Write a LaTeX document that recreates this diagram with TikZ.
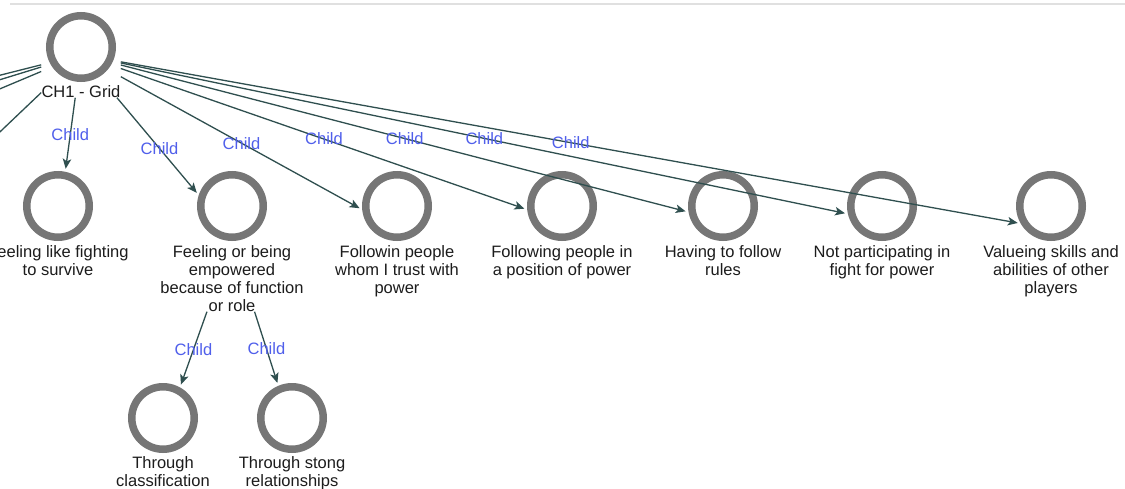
\documentclass[tikz,border=0pt]{standalone}
\usepackage{fontspec}
\setmainfont{Liberation Sans}
\usetikzlibrary{arrows.meta,fit}
\definecolor{ringgray}{RGB}{118,118,118}
\definecolor{edgecol}{RGB}{47,79,79}
\definecolor{childblue}{RGB}{80,95,235}
\definecolor{labeltext}{RGB}{28,28,28}
\definecolor{rulegray}{RGB}{224,224,224}
\begin{document}
\begin{tikzpicture}[x=1pt,y=-1pt,
  concept/.style={circle,draw=ringgray,line width=7.5pt,minimum size=62.5pt,inner sep=0pt},
  caption/.style={align=center,inner sep=0pt,text=labeltext,anchor=north,
    font=\fontsize{16.5}{18}\selectfont},
  grp/.style={inner sep=0pt,draw=none},
  edge/.style={draw=edgecol,line width=1.3pt,
    -{Stealth[length=10pt,width=8.5pt,inset=2.5pt]},shorten >=3pt},
  childlbl/.style={text=childblue,inner sep=0pt,font=\fontsize{16.5}{18}\selectfont}
]
\useasboundingbox (0,0) rectangle (1125,488);
\fill[white] (0,0) rectangle (1125,488);
\clip (0,0) rectangle (1125,488);

% header rule
\draw[rulegray,line width=2pt] (10,4) -- (1125,4);

% root concept
\node[concept] (ch1) at (81,47) {};
\node[caption] (ch1l) at ([yshift=-3pt]ch1.south) {CH1 - Grid};
\node[grp,fit=(ch1)(ch1l)] (ch1g) {};

% first level
\node[concept] (n1) at (58,206) {};
\node[caption] (n1l) at ([yshift=-4pt]n1.south) {Feeling like fighting\\to survive};
\node[concept] (n2) at (232,206) {};
\node[caption] (n2l) at ([yshift=-4pt]n2.south) {Feeling or being\\empowered\\because of function\\or role};
\node[grp,fit=(n2)(n2l)] (n2g) {};
\node[concept] (n3) at (397,206) {};
\node[caption] (n3l) at ([yshift=-4pt]n3.south) {Followin people\\whom I trust with\\power};
\node[concept] (n4) at (562,206) {};
\node[caption] (n4l) at ([yshift=-4pt]n4.south) {Following people in\\a position of power};
\node[concept] (n5) at (723,206) {};
\node[caption] (n5l) at ([yshift=-4pt]n5.south) {Having to follow\\rules};
\node[concept] (n6) at (882,206) {};
\node[caption] (n6l) at ([yshift=-4pt]n6.south) {Not participating in\\fight for power};
\node[concept] (n7) at (1051,206) {};
\node[caption] (n7l) at ([yshift=-4pt]n7.south) {Valueing skills and\\abilities of other\\players};

% second level
\node[concept] (n8) at (163,418) {};
\node[caption] (n8l) at ([yshift=-3.5pt]n8.south) {Through\\classification};
\node[concept] (n9) at (292,418) {};
\node[caption] (n9l) at ([yshift=-3.5pt]n9.south) {Through stong\\relationships};

% children outside the visible area
\coordinate (offa) at (-300,151);
\coordinate (offb) at (-300,172);
\coordinate (offc) at (-300,215);
\coordinate (offd) at (-100,227);

% connectors
\draw[edge] (ch1g) -- (offa);
\draw[edge] (ch1g) -- (offb);
\draw[edge] (ch1g) -- (offc);
\draw[edge] (ch1g) -- (offd);
\draw[edge] (ch1g) -- node[childlbl]{Child} (n1.78);
\draw[edge] (ch1g) -- node[childlbl,pos=0.52]{Child} (n2.162);
\draw[edge] (ch1g) -- node[childlbl]{Child} (n3.186);
\draw[edge] (ch1g) -- node[childlbl]{Child} (n4.186);
\draw[edge] (ch1g) -- node[childlbl]{Child} (n5.190);
\draw[edge] (ch1g) -- node[childlbl]{Child} (n6.193);
\draw[edge] (ch1g) -- node[childlbl]{Child} (n7.210);
\draw[edge] (n2g) -- node[childlbl]{Child} (n8.61);
\draw[edge] (n2g) -- node[childlbl]{Child} (n9.113);
\end{tikzpicture}
\end{document}
